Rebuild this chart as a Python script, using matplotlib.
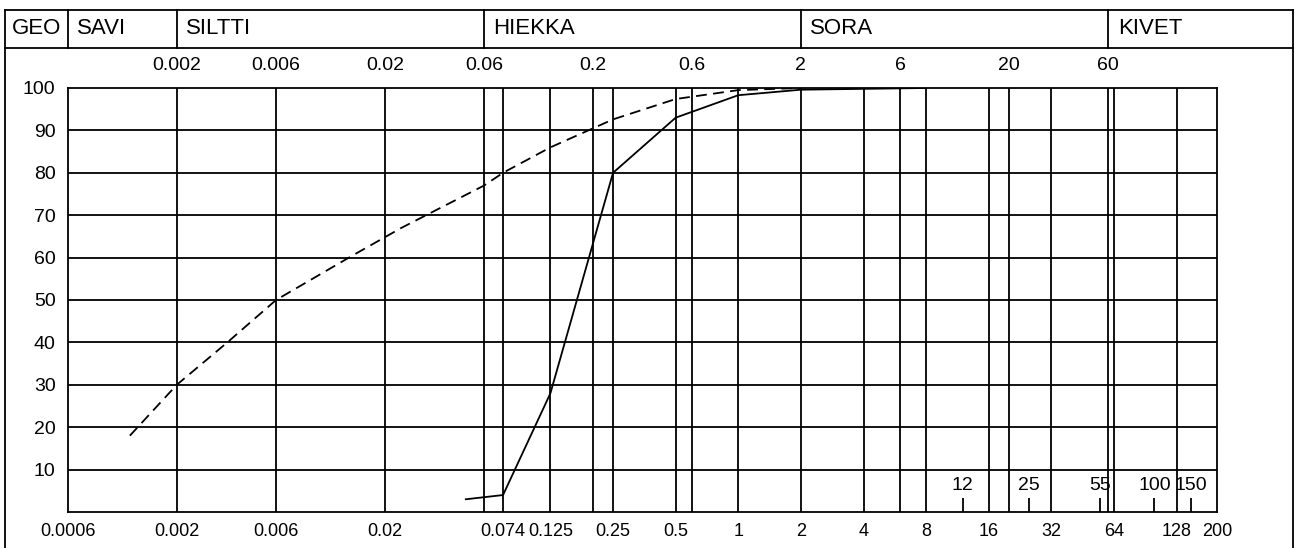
import matplotlib
matplotlib.use('Agg')
import matplotlib.pyplot as plt
from matplotlib.lines import Line2D
from matplotlib.ticker import NullLocator
from matplotlib.transforms import blended_transform_factory

plt.rcParams['font.family'] = ['Liberation Sans', 'DejaVu Sans']

# grain size axis (mm)
x_min, x_max = 0.0006, 200
grid_x = [0.002, 0.006, 0.02, 0.06, 0.074, 0.125, 0.2, 0.25, 0.5, 0.6,
          1, 2, 4, 6, 8, 16, 20, 32, 60, 64, 128]
grid_y = [10, 20, 30, 40, 50, 60, 70, 80, 90]
bottom_ticks = [0.0006, 0.002, 0.006, 0.02, 0.074, 0.125, 0.25, 0.5,
                1, 2, 4, 8, 16, 32, 64, 128, 200]
bottom_labels = ['0.0006', '0.002', '0.006', '0.02', '0.074', '0.125', '0.25', '0.5',
                 '1', '2', '4', '8', '16', '32', '64', '128', '200']
top_ticks = [0.002, 0.006, 0.02, 0.06, 0.2, 0.6, 2, 6, 20, 60]
top_labels = ['0.002', '0.006', '0.02', '0.06', '0.2', '0.6', '2', '6', '20', '60']
y_ticks = [10, 20, 30, 40, 50, 60, 70, 80, 90, 100]
inner_ticks = [12, 25, 55, 100, 150]

# header: soil classes and their boundaries
classes = ['SAVI', 'SILTTI', 'HIEKKA', 'SORA', 'KIVET']
class_bounds = [0.0006, 0.002, 0.06, 2, 60]

# passing percentages
sieve_d = [0.049, 0.074, 0.125, 0.25, 0.5, 1, 2, 8]
sieve_p = [3, 4, 28, 80, 93, 98.3, 99.6, 100]
hydro_d = [0.00119, 0.002, 0.0035, 0.006, 0.014, 0.024, 0.06, 0.074,
           0.125, 0.25, 0.5, 1, 2]
hydro_p = [18, 30, 40, 50, 60.5, 67, 77, 80, 86, 92.6, 97.4, 99.5, 100]

W, H = 1295, 548
fs = 13
fig = plt.figure(figsize=(W / 100, H / 100), dpi=100)
ax = fig.add_axes([68 / W, 1 - 512 / H, (1217 - 68) / W, (512 - 88) / H])
ax.set_xscale('log')
ax.set_xlim(x_min, x_max)
ax.set_ylim(0, 100)

lw = 1.3
ax.vlines(grid_x, 0, 100, colors='black', lw=lw)
ax.hlines(grid_y, x_min, x_max, colors='black', lw=lw)
for s in ax.spines.values():
    s.set_linewidth(lw)

# small marks for intermediate sizes
ax.vlines(inner_ticks, 0, 3.3, colors='black', lw=lw)
for v in inner_ticks:
    ax.text(v, 6.2, str(v), ha='center', va='center', fontsize=fs + 1)

ax.plot(sieve_d, sieve_p, color='black', lw=lw)
ax.plot(hydro_d, hydro_p, color='black', lw=lw, linestyle=(0, (6, 3.5)))

ax.xaxis.set_minor_locator(NullLocator())
ax.set_xticks(bottom_ticks)
ax.set_xticklabels(bottom_labels)
ax.set_yticks(y_ticks)
ax.tick_params(axis='both', length=0, labelsize=fs)
ax.tick_params(axis='y', labelsize=fs + 1)
ax.tick_params(axis='x', pad=8)
ax.tick_params(axis='y', pad=9)

top = ax.secondary_xaxis('top')
top.xaxis.set_minor_locator(NullLocator())
top.set_xticks(top_ticks)
top.set_xticklabels(top_labels)
top.tick_params(length=0, labelsize=fs + 1, pad=10)
top.spines['top'].set_visible(False)

# frame and header
y_top = 1 - 10 / H
y_head = 1 - 48 / H
x_l = 5 / W
x_r = 1293 / W
for xs, ys in [([x_l, x_r], [y_top, y_top]), ([x_l, x_r], [y_head, y_head]),
               ([x_l, x_l], [0, y_top]), ([x_r, x_r], [0, y_top])]:
    fig.add_artist(Line2D(xs, ys, color='black', lw=lw, transform=fig.transFigure))

tr = blended_transform_factory(ax.transData, fig.transFigure)
for b in class_bounds:
    ax.add_line(Line2D([b, b], [y_head, y_top], color='black', lw=lw,
                       transform=tr, clip_on=False))
y_txt = (y_top + y_head) / 2
fig.text(12 / W, y_txt, 'GEO', ha='left', va='center', fontsize=16)
for name, b in zip(classes, class_bounds):
    ax.text(b * 1.11, y_txt, name, ha='left', va='center', fontsize=16,
            transform=tr)

fig.savefig('out.png', dpi=100)
